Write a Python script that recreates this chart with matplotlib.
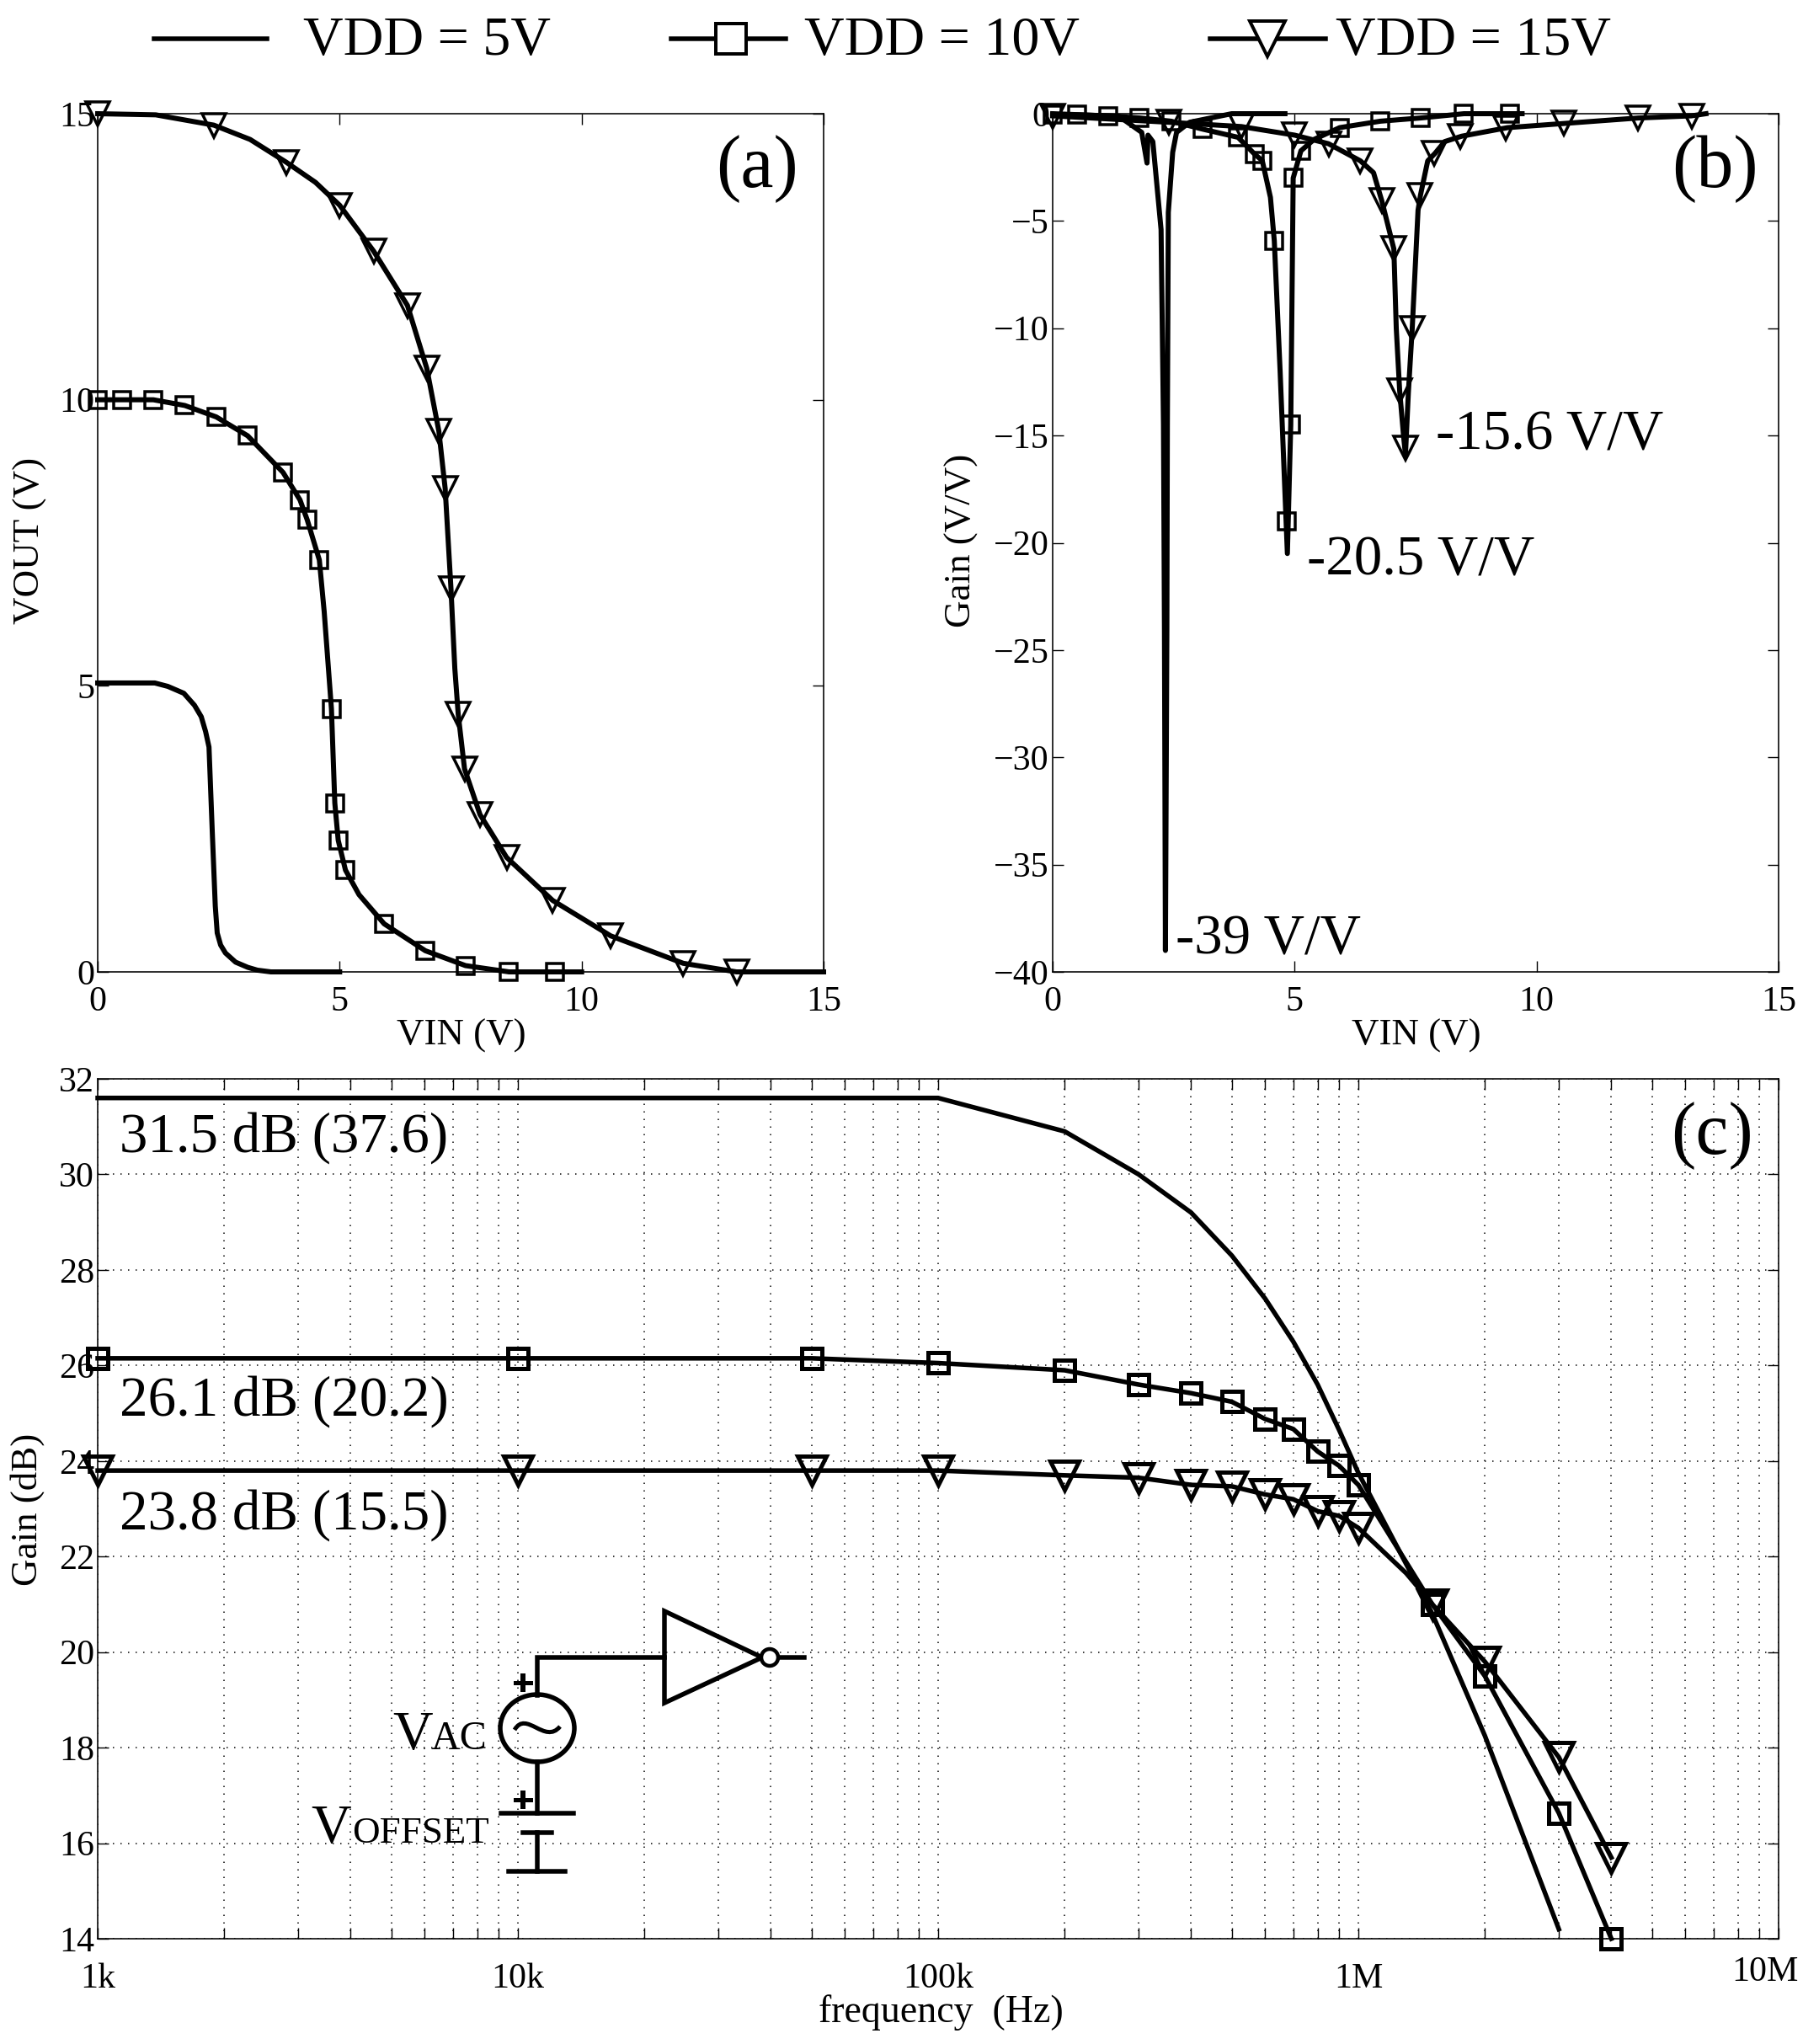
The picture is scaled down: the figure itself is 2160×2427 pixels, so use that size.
#!/usr/bin/env python3
import matplotlib
matplotlib.use("Agg")
import matplotlib.pyplot as plt
from matplotlib.patches import Ellipse, Polygon, PathPatch
from matplotlib.path import Path
from matplotlib.transforms import ScaledTranslation

W, H = 2160, 2427
DPI = 100

plt.rcParams["font.family"] = ["Liberation Serif", "DejaVu Serif"]

# (a) transfer curves
a5_x = [0, 1.18, 1.45, 1.78, 2.0, 2.14, 2.23, 2.3, 2.37, 2.43, 2.47, 2.54, 2.64, 2.85, 3.1, 3.3, 3.58, 5]
a5_y = [5.05, 5.05, 4.99, 4.87, 4.66, 4.46, 4.2, 3.93, 2.4, 1.15, 0.68, 0.47, 0.33, 0.17, 0.08, 0.03, 0, 0]
a10_x = [0, 0.5, 1.15, 1.8, 2.45, 3.1, 3.83, 4.18, 4.33, 4.58, 4.68, 4.83, 4.9, 4.97, 5.12, 5.4, 5.92, 6.77, 7.6, 8.5, 9.45, 10]
a10_y = [10, 10, 10, 9.9, 9.7, 9.37, 8.73, 8.25, 7.9, 7.2, 6.3, 4.6, 2.95, 2.3, 1.78, 1.35, 0.84, 0.37, 0.11, 0, 0, 0]
a10_mx = [0, 0.5, 1.15, 1.8, 2.45, 3.1, 3.83, 4.18, 4.33, 4.58, 4.83, 4.9, 4.97, 5.12, 5.92, 6.77, 7.6, 8.5, 9.45]
a10_my = [10, 10, 10, 9.9, 9.7, 9.37, 8.73, 8.25, 7.9, 7.2, 4.6, 2.95, 2.3, 1.78, 0.84, 0.37, 0.11, 0, 0]
a15_x = [0, 1.2, 2.4, 3.15, 3.9, 4.5, 5.0, 5.7, 6.4, 6.8, 7.05, 7.18, 7.3, 7.38, 7.45, 7.58, 7.9, 8.45, 9.4, 10.6, 12.1, 13.2, 15]
a15_y = [15, 14.98, 14.8, 14.55, 14.15, 13.8, 13.4, 12.6, 11.65, 10.55, 9.45, 8.45, 6.7, 5.3, 4.5, 3.55, 2.75, 2.0, 1.25, 0.63, 0.15, 0, 0]
a15_mx = [0, 2.4, 3.9, 5.0, 5.7, 6.4, 6.8, 7.05, 7.18, 7.3, 7.45, 7.58, 7.9, 8.45, 9.4, 10.6, 12.1, 13.2]
a15_my = [15, 14.8, 14.15, 13.4, 12.6, 11.65, 10.55, 9.45, 8.45, 6.7, 4.5, 3.55, 2.75, 2.0, 1.25, 0.63, 0.15, 0]

# (b) DC gain
b5_x = [0, 1.37, 1.84, 1.95, 1.97, 2.07, 2.24, 2.29, 2.31, 2.33, 2.36, 2.37, 2.39, 2.48, 2.56, 2.83, 3.7, 4.8]
b5_y = [0, -0.12, -0.87, -2.3, -1.0, -1.3, -5.4, -14.5, -24, -39, -24, -14.5, -4.6, -1.8, -0.87, -0.4, 0, 0]
b10_x = [0, 0.5, 1.15, 1.8, 2.45, 3.1, 3.83, 4.18, 4.33, 4.5, 4.58, 4.7, 4.85, 4.92, 4.97, 5.13, 5.4, 5.93, 6.77, 7.6, 8.5, 9.45, 9.7]
b10_y = [-0.05, -0.05, -0.1, -0.2, -0.35, -0.72, -1.1, -1.9, -2.18, -3.9, -5.93, -12, -20.5, -14.5, -3, -1.73, -1.2, -0.65, -0.35, -0.2, 0, 0, 0]
b10_mx = [0, 0.5, 1.15, 1.8, 2.45, 3.1, 3.83, 4.18, 4.33, 4.58, 4.83, 4.92, 4.97, 5.13, 5.93, 6.77, 7.6, 8.5, 9.45]
b10_my = [-0.05, -0.05, -0.1, -0.2, -0.35, -0.72, -1.1, -1.9, -2.18, -5.93, -19, -14.5, -3, -1.73, -0.65, -0.35, -0.2, 0, 0]
b15_x = [0, 2.4, 3.9, 5.0, 5.7, 6.36, 6.63, 6.8, 7.05, 7.1, 7.17, 7.25, 7.29, 7.35, 7.43, 7.55, 7.6, 7.75, 7.9, 8.1, 8.45, 9.4, 10.6, 12.1, 13.2, 13.5]
b15_y = [-0.1, -0.4, -0.6, -1.0, -1.4, -2.2, -2.75, -4.05, -6.3, -10, -12.9, -15, -15.9, -13, -10, -4.5, -3.8, -2.2, -1.85, -1.3, -1.05, -0.65, -0.45, -0.2, -0.1, 0]
b15_mx = [0, 2.4, 3.9, 5.0, 5.7, 6.36, 6.8, 7.05, 7.17, 7.29, 7.43, 7.59, 7.89, 8.43, 9.36, 10.56, 12.1, 13.2]
b15_my = [-0.1, -0.4, -0.6, -1.0, -1.4, -2.2, -4.05, -6.3, -12.9, -15.6, -10, -3.8, -1.85, -1.05, -0.65, -0.45, -0.2, -0.1]

# (c) AC gain
c5_f = [1e3, 1e5, 2e5, 3e5, 4e5, 5e5, 6e5, 7e5, 8e5, 9e5, 1e6, 1.5e6, 2e6, 3e6]
c5_g = [31.6, 31.6, 30.9, 30.0, 29.2, 28.3, 27.4, 26.5, 25.6, 24.65, 23.75, 20.8, 18.25, 14.2]
c10_f = [1e3, 1e4, 5e4, 1e5, 2e5, 3e5, 4e5, 5e5, 6e5, 7e5, 8e5, 9e5, 1e6, 1.5e6, 2e6, 3e6, 4e6]
c10_g = [26.15, 26.15, 26.15, 26.05, 25.9, 25.6, 25.42, 25.24, 24.88, 24.67, 24.2, 23.9, 23.5, 21.0, 19.5, 16.63, 14.0]
c15_f = [1e3, 1e4, 5e4, 1e5, 2e5, 3e5, 4e5, 5e5, 6e5, 7e5, 8e5, 9e5, 1e6, 1.3e6, 1.5e6, 2e6, 3e6, 4e6]
c15_g = [23.8, 23.8, 23.8, 23.8, 23.7, 23.65, 23.5, 23.47, 23.3, 23.2, 22.95, 22.85, 22.6, 21.65, 21.0, 19.8, 17.8, 15.7]
c15_mf = [1e3, 1e4, 5e4, 1e5, 2e5, 3e5, 4e5, 5e5, 6e5, 7e5, 8e5, 9e5, 1e6, 1.5e6, 2e6, 3e6, 4e6]
c15_mg = [23.8, 23.8, 23.8, 23.8, 23.7, 23.65, 23.5, 23.47, 23.3, 23.2, 22.95, 22.85, 22.6, 21.0, 19.8, 17.8, 15.7]

freq_ticks = [1e3, 1e4, 1e5, 1e6, 1e7]
freq_labels = ["1k", "10k", "100k", "1M", "10M"]
legend_labels = ["VDD = 5V", "VDD = 10V", "VDD = 15V"]


def pt(px):
	return px * 72 / DPI


def make_axes(fig, x0, y0, x1, y1):
	ax = fig.add_axes([x0 / W, 1 - y1 / H, (x1 - x0) / W, (y1 - y0) / H])
	for s in ax.spines.values():
		s.set_linewidth(pt(1.6))
	ax.tick_params(which="both", direction="in", top=True, right=True, width=pt(1.4), length=pt(13), labelsize=pt(42))
	ax.tick_params(axis="y", pad=pt(4))
	ax.tick_params(axis="x", pad=pt(17))
	return ax


def draw(ax, x, y, mx=None, my=None, marker=None, ms=20, lw=6, mew=3.5):
	ax.plot(x, y, color="black", lw=pt(lw), solid_joinstyle="round", clip_on=False)
	if marker:
		ax.plot(mx, my, ls="none", marker=marker, ms=pt(ms), mfc="none", mec="black", mew=pt(mew), clip_on=False)


fig = plt.figure(figsize=(W / DPI, H / DPI), dpi=DPI, facecolor="white")
over = fig.add_axes([0, 0, 1, 1], zorder=10)
over.set_xlim(0, W)
over.set_ylim(H, 0)
over.axis("off")
over.patch.set_alpha(0)

# panel (a)
ax = make_axes(fig, 116, 135, 978, 1154)
draw(ax, a5_x, a5_y)
draw(ax, a10_x, a10_y, a10_mx, a10_my, "s", ms=20)
draw(ax, a15_x, a15_y, a15_mx, a15_my, "v", ms=28)
ax.set_xlim(0, 15)
ax.set_ylim(0, 15)
ax.set_xticks([0, 5, 10, 15])
ax.set_yticks([0, 5, 10, 15])
ax.set_xlabel("VIN (V)", fontsize=pt(45), va="center")
ax.xaxis.set_label_coords(548, 1230, transform=over.transData)
ax.set_ylabel("VOUT (V)", fontsize=pt(45), va="center")
ax.yaxis.set_label_coords(36, 642, transform=over.transData)

# panel (b)
ax = make_axes(fig, 1250, 135, 2112, 1154)
draw(ax, b5_x, b5_y)
draw(ax, b10_x, b10_y, b10_mx, b10_my, "s", ms=20)
draw(ax, b15_x, b15_y, b15_mx, b15_my, "v", ms=28)
ax.set_xlim(0, 15)
ax.set_ylim(-40, 0)
ax.set_xticks([0, 5, 10, 15])
ax.set_yticks(range(-40, 1, 5))
ax.set_xlabel("VIN (V)", fontsize=pt(45), va="center")
ax.xaxis.set_label_coords(1682, 1230, transform=over.transData)
ax.set_ylabel("Gain (V/V)", fontsize=pt(45), va="center")
ax.yaxis.set_label_coords(1142, 642, transform=over.transData)

# panel (c)
ax = make_axes(fig, 116, 1281, 2112, 2302)
ax.set_xscale("log")
ax.set_xlim(1e3, 1e7)
ax.set_ylim(14, 32)
ax.set_xticks(freq_ticks)
ax.set_xticklabels(freq_labels)
ax.set_yticks(range(14, 33, 2))
ax.grid(True, which="both", axis="x", color="black", lw=pt(1.5), ls=(0, (1, 5)))
ax.grid(True, which="major", axis="y", color="black", lw=pt(1.5), ls=(0, (1, 5)))
ax.set_axisbelow(True)
ax.tick_params(axis="x", which="both", pad=pt(28))
draw(ax, c5_f, c5_g, lw=5.5)
draw(ax, c10_f, c10_g, c10_f, c10_g, "s", ms=24, lw=5.5, mew=5)
draw(ax, c15_f, c15_g, c15_mf, c15_mg, "v", ms=34, lw=5.5, mew=5)
ten_m = ax.get_xticklabels()[-1]
ten_m.set_transform(ten_m.get_transform() + ScaledTranslation(-16 / DPI, 8 / DPI, fig.dpi_scale_trans))
ax.set_xlabel("frequency  (Hz)", fontsize=pt(46), va="center")
ax.xaxis.set_label_coords(1117, 2390, transform=over.transData)
ax.set_ylabel("Gain (dB)", fontsize=pt(45), va="center")
ax.yaxis.set_label_coords(33, 1792, transform=over.transData)

# panel letters and value notes
for x, y, s in [(899, 201, "(a)"), (2036, 201, "(b)"), (2033, 1349, "(c)")]:
	over.text(x, y, s, fontsize=pt(88), ha="center", va="center")
for x, y, s in [(1396, 1116, "-39 V/V"), (1552, 666, "-20.5 V/V"), (1705, 517, "-15.6 V/V"),
		(142, 1351, "31.5 dB (37.6)"), (142, 1664, "26.1 dB (20.2)"), (142, 1799, "23.8 dB (15.5)")]:
	over.text(x, y, s, fontsize=pt(67), ha="left", va="center")

# legend row on top
over.plot([183, 317], [46, 46], color="black", lw=pt(5.5))
over.plot([797, 933], [46, 46], color="black", lw=pt(5.5))
over.plot([868], [46], ls="none", marker="s", ms=pt(36), mfc="white", mec="black", mew=pt(4))
over.plot([1437, 1574], [46, 46], color="black", lw=pt(5.5))
over.plot([1505], [46], ls="none", marker="v", ms=pt(42), mfc="white", mec="black", mew=pt(4))
for x, s in zip([360, 955, 1586], legend_labels):
	over.text(x, 49, s, fontsize=pt(66), ha="left", va="center")

# input circuit sketch
clw = pt(5.5)
over.plot([638, 638, 789], [2013, 1968, 1968], color="black", lw=clw, solid_joinstyle="miter")
over.add_patch(Polygon([[789, 1913], [789, 2022], [905, 1968]], closed=True, fill=False, ec="black", lw=clw))
over.add_patch(Ellipse((914, 1968), 20, 20, fc="white", ec="black", lw=pt(4.5), zorder=3))
over.plot([924, 955], [1968, 1968], color="black", lw=clw)
over.add_patch(Ellipse((638, 2052), 88, 80, fill=False, ec="black", lw=clw))
tilde = Path([(611, 2054), (625, 2030), (647, 2072), (665, 2050)], [Path.MOVETO, Path.CURVE4, Path.CURVE4, Path.CURVE4])
over.add_patch(PathPatch(tilde, fill=False, ec="black", lw=pt(5)))
over.plot([638, 638], [2092, 2153], color="black", lw=clw)
over.plot([595, 681], [2153, 2153], color="black", lw=clw)
over.plot([621, 655], [2176, 2176], color="black", lw=clw)
over.plot([638, 638], [2176, 2222], color="black", lw=clw)
over.plot([604, 671], [2222, 2222], color="black", lw=clw)
for py in [1998, 2137]:
	over.plot([612, 630], [py, py], color="black", lw=pt(5))
	over.plot([621, 621], [py - 8, py + 8], color="black", lw=pt(6))
over.text(466, 2077, "V", fontsize=pt(66), ha="left", va="baseline")
over.text(511, 2077, "AC", fontsize=pt(48), ha="left", va="baseline")
over.text(369, 2188, "V", fontsize=pt(66), ha="left", va="baseline")
over.text(418, 2188, "OFFSET", fontsize=pt(45), ha="left", va="baseline")

fig.savefig("out.png", dpi=DPI)
plt.close(fig)
